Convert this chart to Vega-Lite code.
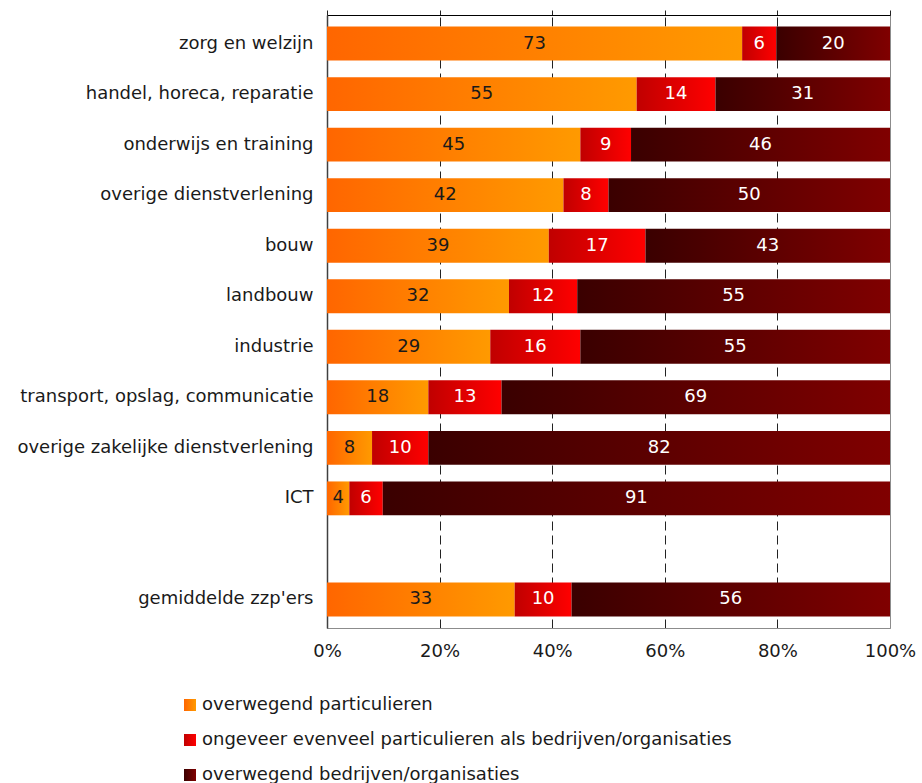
{
  "$schema": "https://vega.github.io/schema/vega-lite/v6.json",
  "width": 563,
  "height": 613,
  "autosize": {"type": "none"},
  "padding": {"left": 327, "top": 15, "right": 32, "bottom": 155},
  "background": "white",
  "config": {
    "font": "DejaVu Sans",
    "view": {"stroke": "#8c8c8c", "strokeWidth": 1},
    "axis": {"labelFont": "DejaVu Sans", "labelFontSize": 18, "labelColor": "#1a1a1a", "title": null}
  },
  "datasets": {
    "zzp": [
      {"cat": "zorg en welzijn", "series": "overwegend particulieren", "ord": 1, "pct": 73},
      {"cat": "zorg en welzijn", "series": "ongeveer evenveel particulieren als bedrijven/organisaties", "ord": 2, "pct": 6},
      {"cat": "zorg en welzijn", "series": "overwegend bedrijven/organisaties", "ord": 3, "pct": 20},
      {"cat": "handel, horeca, reparatie", "series": "overwegend particulieren", "ord": 1, "pct": 55},
      {"cat": "handel, horeca, reparatie", "series": "ongeveer evenveel particulieren als bedrijven/organisaties", "ord": 2, "pct": 14},
      {"cat": "handel, horeca, reparatie", "series": "overwegend bedrijven/organisaties", "ord": 3, "pct": 31},
      {"cat": "onderwijs en training", "series": "overwegend particulieren", "ord": 1, "pct": 45},
      {"cat": "onderwijs en training", "series": "ongeveer evenveel particulieren als bedrijven/organisaties", "ord": 2, "pct": 9},
      {"cat": "onderwijs en training", "series": "overwegend bedrijven/organisaties", "ord": 3, "pct": 46},
      {"cat": "overige dienstverlening", "series": "overwegend particulieren", "ord": 1, "pct": 42},
      {"cat": "overige dienstverlening", "series": "ongeveer evenveel particulieren als bedrijven/organisaties", "ord": 2, "pct": 8},
      {"cat": "overige dienstverlening", "series": "overwegend bedrijven/organisaties", "ord": 3, "pct": 50},
      {"cat": "bouw", "series": "overwegend particulieren", "ord": 1, "pct": 39},
      {"cat": "bouw", "series": "ongeveer evenveel particulieren als bedrijven/organisaties", "ord": 2, "pct": 17},
      {"cat": "bouw", "series": "overwegend bedrijven/organisaties", "ord": 3, "pct": 43},
      {"cat": "landbouw", "series": "overwegend particulieren", "ord": 1, "pct": 32},
      {"cat": "landbouw", "series": "ongeveer evenveel particulieren als bedrijven/organisaties", "ord": 2, "pct": 12},
      {"cat": "landbouw", "series": "overwegend bedrijven/organisaties", "ord": 3, "pct": 55},
      {"cat": "industrie", "series": "overwegend particulieren", "ord": 1, "pct": 29},
      {"cat": "industrie", "series": "ongeveer evenveel particulieren als bedrijven/organisaties", "ord": 2, "pct": 16},
      {"cat": "industrie", "series": "overwegend bedrijven/organisaties", "ord": 3, "pct": 55},
      {"cat": "transport, opslag, communicatie", "series": "overwegend particulieren", "ord": 1, "pct": 18},
      {"cat": "transport, opslag, communicatie", "series": "ongeveer evenveel particulieren als bedrijven/organisaties", "ord": 2, "pct": 13},
      {"cat": "transport, opslag, communicatie", "series": "overwegend bedrijven/organisaties", "ord": 3, "pct": 69},
      {"cat": "overige zakelijke dienstverlening", "series": "overwegend particulieren", "ord": 1, "pct": 8},
      {"cat": "overige zakelijke dienstverlening", "series": "ongeveer evenveel particulieren als bedrijven/organisaties", "ord": 2, "pct": 10},
      {"cat": "overige zakelijke dienstverlening", "series": "overwegend bedrijven/organisaties", "ord": 3, "pct": 82},
      {"cat": "ICT", "series": "overwegend particulieren", "ord": 1, "pct": 4},
      {"cat": "ICT", "series": "ongeveer evenveel particulieren als bedrijven/organisaties", "ord": 2, "pct": 6},
      {"cat": "ICT", "series": "overwegend bedrijven/organisaties", "ord": 3, "pct": 91},
      {"cat": "gemiddelde zzp'ers", "series": "overwegend particulieren", "ord": 1, "pct": 33},
      {"cat": "gemiddelde zzp'ers", "series": "ongeveer evenveel particulieren als bedrijven/organisaties", "ord": 2, "pct": 10},
      {"cat": "gemiddelde zzp'ers", "series": "overwegend bedrijven/organisaties", "ord": 3, "pct": 56}
    ]
  },
  "data": {"name": "zzp"},
  "transform": [
    {"stack": "pct", "groupby": ["cat"], "offset": "normalize", "sort": [{"field": "ord", "order": "ascending"}], "as": ["x0", "x1"]},
    {"calculate": "(datum.x0 + datum.x1) / 2", "as": "xm"}
  ],
  "layer": [
    {
      "mark": {"type": "bar"},
      "encoding": {
        "y": {
          "field": "cat", "type": "nominal", "title": null,
          "scale": {
            "domain": ["zorg en welzijn", "handel, horeca, reparatie", "onderwijs en training", "overige dienstverlening", "bouw", "landbouw", "industrie", "transport, opslag, communicatie", "overige zakelijke dienstverlening", "ICT", " ", "gemiddelde zzp'ers"],
            "paddingInner": 0.33, "paddingOuter": 0.23
          },
          "axis": {"ticks": false, "labelPadding": 14, "domainColor": "#404040", "domainWidth": 1.5, "labelLimit": 0}
        },
        "x": {
          "field": "x0", "type": "quantitative", "title": null,
          "scale": {"domain": [0, 1], "nice": false},
          "axis": {
            "orient": "bottom", "format": "%", "values": [0, 0.2, 0.4, 0.6, 0.8, 1],
            "labelFlush": false, "labelOverlap": false,
            "ticks": false, "labelPadding": 14, "domainColor": "#8c8c8c",
            "grid": true, "gridColor": "#222222", "gridDash": [9, 5], "gridWidth": 1,
            "gridOpacity": {"condition": {"test": "datum.value == 0 || datum.value == 1", "value": 0}, "value": 1}
          }
        },
        "x2": {"field": "x1"},
        "color": {
          "field": "series", "type": "nominal",
          "scale": {
            "domain": ["overwegend particulieren", "ongeveer evenveel particulieren als bedrijven/organisaties", "overwegend bedrijven/organisaties"],
            "range": [
              {"expr": "{gradient: 'linear', stops: [{offset: 0, color: '#ff6600'}, {offset: 1, color: '#ff9a00'}]}"},
              {"expr": "{gradient: 'linear', stops: [{offset: 0, color: '#c00000'}, {offset: 1, color: '#ff0000'}]}"},
              {"expr": "{gradient: 'linear', stops: [{offset: 0, color: '#3a0000'}, {offset: 1, color: '#800000'}]}"}
            ]
          },
          "legend": {
            "orient": "none", "legendX": -146, "legendY": 681, "title": null,
            "symbolType": "square", "symbolSize": 144, "symbolStrokeWidth": 0,
            "labelFont": "DejaVu Sans", "labelFontSize": 18, "labelColor": "#1a1a1a",
            "labelOffset": 3, "labelLimit": 0, "rowPadding": 17
          }
        }
      }
    },
    {
      "mark": {"type": "text", "font": "DejaVu Sans", "fontSize": 18, "align": "center", "baseline": "middle"},
      "encoding": {
        "y": {"field": "cat", "type": "nominal"},
        "x": {
          "field": "xm", "type": "quantitative",
          "axis": {"orient": "top", "labels": false, "grid": false, "ticks": true, "tickSize": 5, "tickColor": "#222222", "domainColor": "#000000", "values": [0, 0.2, 0.4, 0.6, 0.8, 1]}
        },
        "text": {"field": "pct", "type": "quantitative"},
        "color": {"condition": {"test": "datum.ord == 1", "value": "#1a1a1a"}, "value": "#ffffff"}
      }
    }
  ],
  "resolve": {"axis": {"x": "independent"}}
}
